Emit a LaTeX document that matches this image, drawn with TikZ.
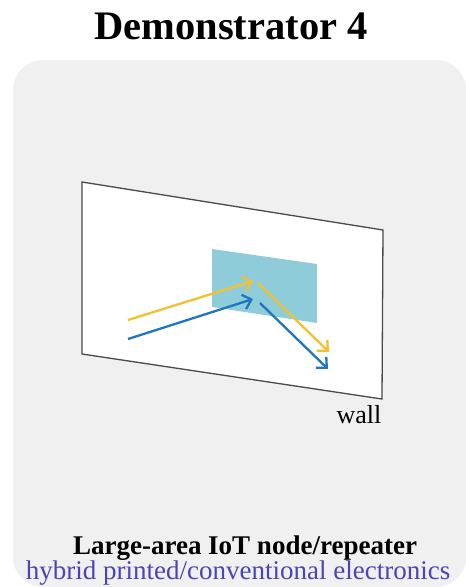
\documentclass[tikz,border=0pt]{standalone}
\usepackage{fontspec}
\setmainfont{Liberation Serif}
\usetikzlibrary{arrows.meta}
\definecolor{panelgrey}{HTML}{F0F0F0}
\definecolor{wallline}{HTML}{4A4A4A}
\definecolor{patch}{HTML}{8FCCDA}
\definecolor{raygold}{HTML}{F2C12E}
\definecolor{rayblue}{HTML}{1F76C0}
\definecolor{subtitle}{HTML}{4B44B8}
\tikzset{ray/.style={line width=2.3pt,-{Straight Barb[length=8pt,width=15pt,line width=2.3pt]}},
  txt/.style={inner sep=0,anchor=base}}
\begin{document}
\begin{tikzpicture}[x=1pt,y=-1pt]
\useasboundingbox (0,0) rectangle (466,587);
\fill[white] (0,0) rectangle (466,587);
\fill[panelgrey,rounded corners=30pt] (13,60) rectangle (466,587);
\node[txt,font=\fontsize{40.5}{44}\selectfont\bfseries] (title) at (231,39) {Demonstrator 4};
\coordinate (wtl) at (82,182);
\coordinate (wtr) at (383,230);
\coordinate (wbr) at (382,399);
\coordinate (wbl) at (82,354);
\filldraw[fill=white,draw=wallline,line width=1.3pt] (wtl) -- (wtr) -- (wbr) -- (wbl) -- cycle;
\fill[patch] (212,249) -- (317,264) -- (317,323) -- (212,307) -- cycle;
\coordinate (ya) at (128,320);
\coordinate (yb) at (253,281);
\coordinate (yc) at (258,283);
\coordinate (yd) at (329,352);
\coordinate (ba) at (128,339);
\coordinate (bb) at (253,299);
\coordinate (bc) at (260,303);
\coordinate (bd) at (328,369);
\draw[ray,raygold] (ya) -- (yb);
\draw[ray,raygold] (yc) -- (yd);
\draw[ray,rayblue] (ba) -- (bb);
\draw[ray,rayblue] (bc) -- (bd);
\node[txt,font=\fontsize{26}{30}\selectfont] (walllbl) at (359,423) {wall};
\node[txt,font=\fontsize{27}{30}\selectfont\bfseries] (name) at (245,554) {Large-area IoT node/repeater};
\node[txt,font=\fontsize{27}{30}\selectfont,text=subtitle] (tech) at (238,579) {hybrid printed/conventional electronics};
\end{tikzpicture}
\end{document}
